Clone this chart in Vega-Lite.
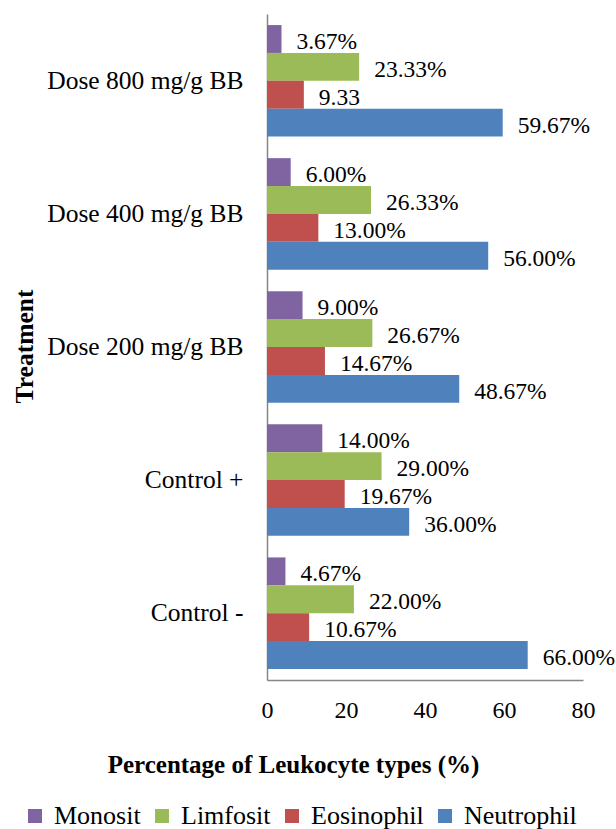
{
  "$schema": "https://vega.github.io/schema/vega-lite/v6.json",
  "width": 316,
  "height": 666,
  "autosize": {"type": "none"},
  "padding": {"left": 267, "top": 14, "right": 33, "bottom": 149},
  "background": "white",
  "config": {
    "font": "Liberation Serif",
    "view": {"stroke": null},
    "axis": {"labelFont": "Liberation Serif", "titleFont": "Liberation Serif"},
    "legend": {"labelFont": "Liberation Serif"},
    "text": {"font": "Liberation Serif"}
  },
  "data": {
    "values": [
      {"treatment": "Dose 800 mg/g BB", "type": "Monosit", "value": 3.67, "label": "3.67%"},
      {"treatment": "Dose 800 mg/g BB", "type": "Limfosit", "value": 23.33, "label": "23.33%"},
      {"treatment": "Dose 800 mg/g BB", "type": "Eosinophil", "value": 9.33, "label": "9.33"},
      {"treatment": "Dose 800 mg/g BB", "type": "Neutrophil", "value": 59.67, "label": "59.67%"},
      {"treatment": "Dose 400 mg/g BB", "type": "Monosit", "value": 6.0, "label": "6.00%"},
      {"treatment": "Dose 400 mg/g BB", "type": "Limfosit", "value": 26.33, "label": "26.33%"},
      {"treatment": "Dose 400 mg/g BB", "type": "Eosinophil", "value": 13.0, "label": "13.00%"},
      {"treatment": "Dose 400 mg/g BB", "type": "Neutrophil", "value": 56.0, "label": "56.00%"},
      {"treatment": "Dose 200 mg/g BB", "type": "Monosit", "value": 9.0, "label": "9.00%"},
      {"treatment": "Dose 200 mg/g BB", "type": "Limfosit", "value": 26.67, "label": "26.67%"},
      {"treatment": "Dose 200 mg/g BB", "type": "Eosinophil", "value": 14.67, "label": "14.67%"},
      {"treatment": "Dose 200 mg/g BB", "type": "Neutrophil", "value": 48.67, "label": "48.67%"},
      {"treatment": "Control +", "type": "Monosit", "value": 14.0, "label": "14.00%"},
      {"treatment": "Control +", "type": "Limfosit", "value": 29.0, "label": "29.00%"},
      {"treatment": "Control +", "type": "Eosinophil", "value": 19.67, "label": "19.67%"},
      {"treatment": "Control +", "type": "Neutrophil", "value": 36.0, "label": "36.00%"},
      {"treatment": "Control -", "type": "Monosit", "value": 4.67, "label": "4.67%"},
      {"treatment": "Control -", "type": "Limfosit", "value": 22.0, "label": "22.00%"},
      {"treatment": "Control -", "type": "Eosinophil", "value": 10.67, "label": "10.67%"},
      {"treatment": "Control -", "type": "Neutrophil", "value": 66.0, "label": "66.00%"}
    ]
  },
  "encoding": {
    "y": {
      "field": "treatment",
      "type": "nominal",
      "sort": ["Dose 800 mg/g BB", "Dose 400 mg/g BB", "Dose 200 mg/g BB", "Control +", "Control -"],
      "scale": {"paddingInner": 0.162, "paddingOuter": 0.083},
      "axis": {
        "title": "Treatment",
        "titleFont": "Liberation Serif",
        "titleFontSize": 25.5,
        "titleFontWeight": "bold",
        "titleColor": "black",
        "titleAngle": -90,
        "titleX": -243,
        "titleY": 332,
        "titleAlign": "center",
        "titleBaseline": "middle",
        "labelFont": "Liberation Serif",
        "labelFontSize": 25.5,
        "labelColor": "black",
        "labelPadding": 24,
        "ticks": false,
        "domainColor": "#868686",
        "domainWidth": 1.5,
        "labelLimit": 400
      }
    },
    "x": {
      "field": "value",
      "type": "quantitative",
      "scale": {"domain": [0, 80], "nice": false},
      "axis": {
        "title": "Percentage of Leukocyte types (%)",
        "titleFont": "Liberation Serif",
        "titleFontSize": 25,
        "titleFontWeight": "bold",
        "titleColor": "black",
        "titleX": 26,
        "titleY": 84,
        "titleAlign": "center",
        "titleBaseline": "middle",
        "values": [0, 20, 40, 60, 80],
        "grid": false,
        "ticks": false,
        "labelFont": "Liberation Serif",
        "labelFontSize": 24,
        "labelColor": "black",
        "labelPadding": 18,
        "labelFlush": false,
        "domainColor": "#868686",
        "domainWidth": 1.5
      }
    },
    "yOffset": {
      "field": "type",
      "type": "nominal",
      "sort": ["Monosit", "Limfosit", "Eosinophil", "Neutrophil"],
      "scale": {"paddingInner": 0, "paddingOuter": 0}
    }
  },
  "layer": [
    {
      "mark": {"type": "bar", "cornerRadius": 0},
      "encoding": {
        "color": {
          "field": "type",
          "type": "nominal",
          "sort": ["Monosit", "Limfosit", "Eosinophil", "Neutrophil"],
          "scale": {
            "domain": ["Monosit", "Limfosit", "Eosinophil", "Neutrophil"],
            "range": ["#8064A2", "#9BBB59", "#C0504D", "#4F81BD"]
          },
          "legend": {
            "title": null,
            "orient": "none",
            "direction": "horizontal",
            "legendX": -245,
            "legendY": 789,
            "padding": 0,
            "symbolType": "square",
            "symbolSize": 196,
            "symbolStrokeWidth": 0,
            "symbolOpacity": 1,
            "labelFont": "Liberation Serif",
            "labelFontSize": 26,
            "labelColor": "black",
            "labelOffset": 6,
            "columnPadding": 8,
            "labelLimit": 300
          }
        }
      }
    },
    {
      "mark": {"type": "text", "align": "left", "baseline": "middle", "dx": 15, "dy": 3, "fontSize": 23.5, "color": "black", "font": "Liberation Serif"},
      "encoding": {
        "text": {"field": "label", "type": "nominal"}
      }
    }
  ]
}
